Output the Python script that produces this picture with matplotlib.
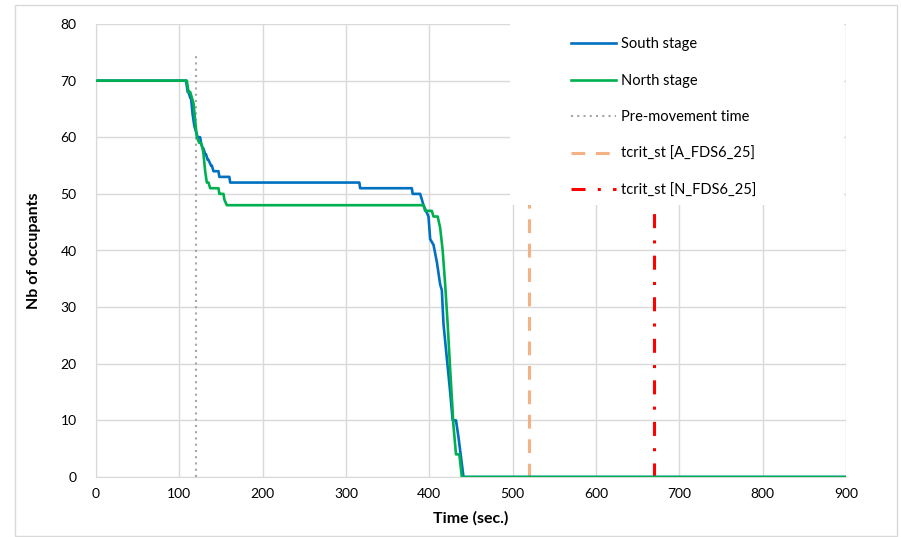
import matplotlib
matplotlib.use('Agg')
import matplotlib.pyplot as plt
from matplotlib.patches import Rectangle

plt.rcParams['font.family'] = ['Lato', 'DejaVu Sans']

# South stage occupants over time
south_t = [0, 108, 110, 111, 113, 114, 116, 118, 120, 122, 125, 126, 128, 129, 131, 132, 134, 135,
           138, 139, 141, 142, 147, 148, 160, 161, 316, 317, 379, 380, 389, 393, 399, 401, 405,
           409, 413, 415, 417, 421, 425, 428, 430, 432, 435, 441, 900]
south_n = [70, 70, 68, 68, 67, 67, 64, 62, 61, 60, 60, 59, 58, 58, 57, 57, 56, 56,
           55, 55, 54, 54, 54, 53, 53, 52, 52, 51, 51, 50, 50, 48, 46, 42, 41,
           38, 34, 33, 27, 21, 15, 10, 10, 10, 7, 0, 0]

# North stage occupants over time
north_t = [0, 109, 111, 113, 115, 117, 119, 121, 124, 126, 128, 129, 131, 133, 135, 137, 147, 148,
           149, 153, 154, 157, 158, 393, 395, 403, 405, 410, 413, 416, 419, 422, 425, 429, 432,
           436, 439, 900]
north_n = [70, 70, 68, 68, 67, 66, 63, 60, 59, 59, 58, 57, 54, 52, 52, 51, 51, 50,
           50, 50, 49, 48, 48, 48, 47, 47, 46, 46, 44, 40, 34, 27, 19, 9, 4,
           4, 0, 0]

premove_t = 120
premove_top = 75
tcrit_a = 520
tcrit_n = 670
y_max = 80

fig = plt.figure(figsize=(9.01, 5.37), dpi=100)
ax = fig.add_axes([96/901, 1 - 477/537, 750/901, 453/537])

# outer chart border
fig.patches.append(Rectangle((15/901, 1/537), 882/901, 531/537, transform=fig.transFigure,
                             fill=False, edgecolor='#D9D9D9', linewidth=1))

ax.plot(south_t, south_n, color='#0070C0', lw=1.9, label='South stage', zorder=2.5)
ax.plot(north_t, north_n, color='#00B050', lw=1.9, label='North stage', zorder=2.6)
ax.plot([premove_t, premove_t], [0, premove_top], color='#A6A6A6', lw=1.5,
        dashes=(1, 2), label='Pre-movement time', zorder=2)
ax.plot([tcrit_a, tcrit_a], [0, y_max], color='#F4B183', lw=2.2, dashes=(4.5, 3.5),
        dash_capstyle='butt', label='tcrit_st [A_FDS6_25]', zorder=2)
ax.plot([tcrit_n, tcrit_n], [0, y_max], color='#FF0000', lw=2.2, dashes=(4.6, 4, 1, 4),
        dash_capstyle='butt', label='tcrit_st [N_FDS6_25]', zorder=2)

# white legend area over the plot
ax.add_patch(Rectangle(((510-96)/750, (477-205)/453), (844-510)/750, (205-22)/453,
                       transform=ax.transAxes, facecolor='white', edgecolor='none',
                       zorder=3, clip_on=False))
leg = ax.legend(loc='upper left', bbox_to_anchor=((571-96)/750, (477-37)/453), frameon=False,
                fontsize=10.5, labelspacing=1.55, handlelength=3.1, handletextpad=0.3,
                borderpad=0, borderaxespad=0)
leg.set_zorder(5)

ax.set_xlim(0, 900)
ax.set_ylim(0, y_max)
ax.set_xticks(range(0, 901, 100))
ax.set_yticks(range(0, 81, 10))
ax.grid(True, color='#D9D9D9', lw=1)
ax.set_axisbelow(True)
for s in ['top', 'right']:
    ax.spines[s].set_visible(False)
for s in ['left', 'bottom']:
    ax.spines[s].set_color('#D9D9D9')
ax.tick_params(length=0, labelsize=10, colors='#000000', pad=8)
ax.tick_params(axis='y', pad=14)
ax.set_xlabel('Time (sec.)', fontsize=11.5, fontweight='bold', labelpad=8)
ax.set_ylabel('Nb of occupants', fontsize=11.5, fontweight='bold', labelpad=14)

fig.savefig('out.png', dpi=100)
